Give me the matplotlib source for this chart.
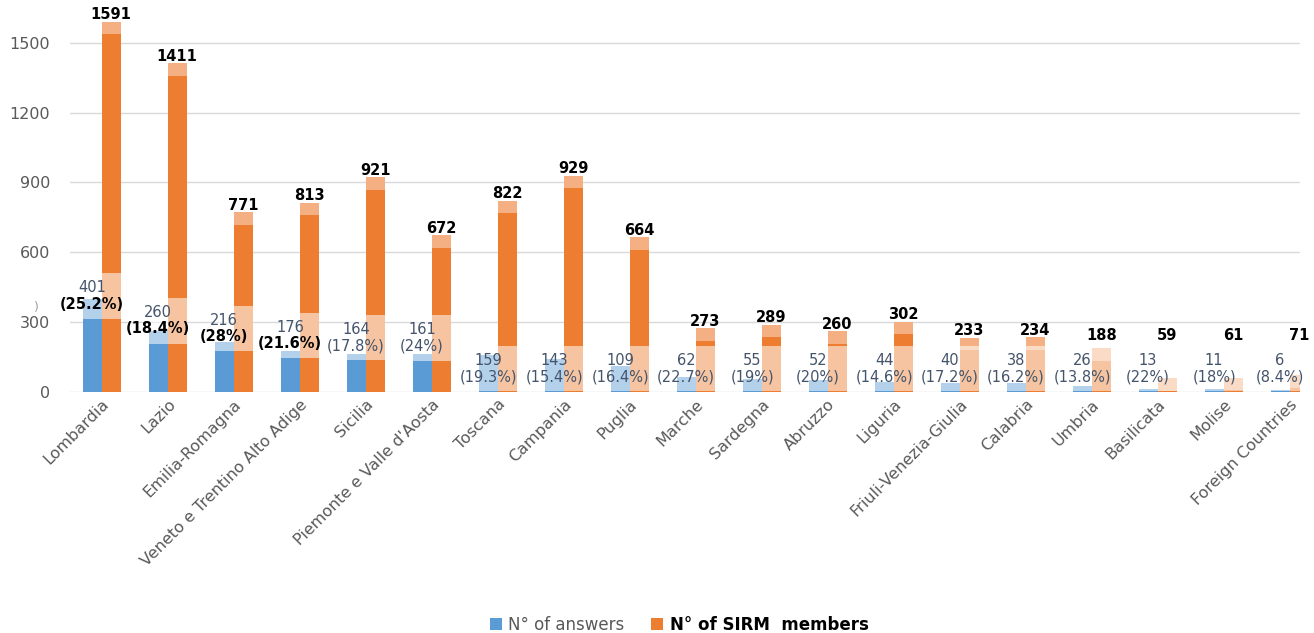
import matplotlib.pyplot as plt
from matplotlib.patches import Rectangle

regions = ["Lombardia", "Lazio", "Emilia-Romagna", "Veneto e Trentino Alto Adige",
           "Sicilia", "Piemonte e Valle d'Aosta", "Toscana", "Campania", "Puglia",
           "Marche", "Sardegna", "Abruzzo", "Liguria", "Friuli-Venezia-Giulia",
           "Calabria", "Umbria", "Basilicata", "Molise", "Foreign Countries"]
answers = [401, 260, 216, 176, 164, 161, 159, 143, 109, 62, 55, 52, 44, 40, 38, 26, 13, 11, 6]
members = [1591, 1411, 771, 813, 921, 672, 822, 929, 664, 273, 289, 260, 302, 233, 234, 188, 59, 61, 71]
pct = ["25.2%", "18.4%", "28%", "21.6%", "17.8%", "24%", "19.3%", "15.4%", "16.4%",
       "22.7%", "19%", "20%", "14.6%", "17.2%", "16.2%", "13.8%", "22%", "18%", "8.4%"]
bold_pct = ["Lombardia", "Lazio", "Emilia-Romagna", "Veneto e Trentino Alto Adige"]

blue = '#5B9BD5'
orange = '#ED7D31'
grey = '#595959'

fig = plt.figure(figsize=(13.14, 6.33), dpi=100)
ax = fig.add_axes([0.053, 0.381, 0.936, 0.6066])

w = 0.29
x = list(range(len(regions)))
ax.bar([i - w / 2 for i in x], answers, width=w, color=blue, zorder=2, label="N° of answers")
ax.bar([i + w / 2 for i in x], members, width=w, color=orange, zorder=2, label="N° of SIRM  members")

for i, (a, m, p, r) in enumerate(zip(answers, members, pct, regions)):
    # light box at the top of the orange bar, with the member count above it
    top_h = min(55, m)
    ax.add_patch(Rectangle((i, m - top_h), w, top_h, facecolor='white', alpha=0.4,
                           edgecolor='none', zorder=3))
    ax.text(i + w / 2, max(m + 30, 240), str(m), ha='center', va='center', fontsize=10.5,
            fontweight='bold', color='black', zorder=5)

    # answer label, centred over the blue bar with a pale box behind
    c = 0.75 * a + 110 if a > 160 else 100
    lo = max(0, c - 98)
    ax.add_patch(Rectangle((i - w, lo), 2 * w, c + 98 - lo, facecolor='white', alpha=0.55,
                           edgecolor='none', zorder=3))
    ax.text(i - w / 2, c + 4, str(a), ha='center', va='bottom', fontsize=10.5,
            color='#44546A', zorder=5)
    if r in bold_pct:
        ax.text(i - w / 2, c - 2, "(" + p + ")", ha='center', va='top', fontsize=10.5,
                fontweight='bold', color='black', zorder=5)
    else:
        ax.text(i - w / 2, c - 2, "(" + p + ")", ha='center', va='top', fontsize=10.5,
                color='#44546A', zorder=5)

ax.set_ylim(0, 1650)
ax.set_xlim(-0.485, 18.15)
ax.set_yticks([0, 300, 600, 900, 1200, 1500])
ax.grid(axis='y', color='#D9D9D9', linewidth=1, zorder=0)
for s in ax.spines.values():
    s.set_visible(False)
ax.tick_params(axis='both', length=0, labelsize=11.5, colors=grey)
ax.tick_params(axis='y', pad=14)
ax.set_xticks(x)
ax.set_xticklabels(regions, rotation=45, ha='right', va='top', rotation_mode='anchor')

# clipped remnant of the axis title at the left edge
fig.text(0.028, 0.515, ")", fontsize=9, color='#A0A0A0', ha='center', va='center')

leg = fig.legend(loc='lower center', bbox_to_anchor=(0.517, -0.025), ncol=2, frameon=False,
                 fontsize=12, handlelength=0.7, handleheight=0.7, handletextpad=0.4,
                 columnspacing=1.6)
texts = leg.get_texts()
texts[0].set_color(grey)
texts[1].set_fontweight('bold')
texts[1].set_color('black')

plt.savefig("out.png", dpi=100)
